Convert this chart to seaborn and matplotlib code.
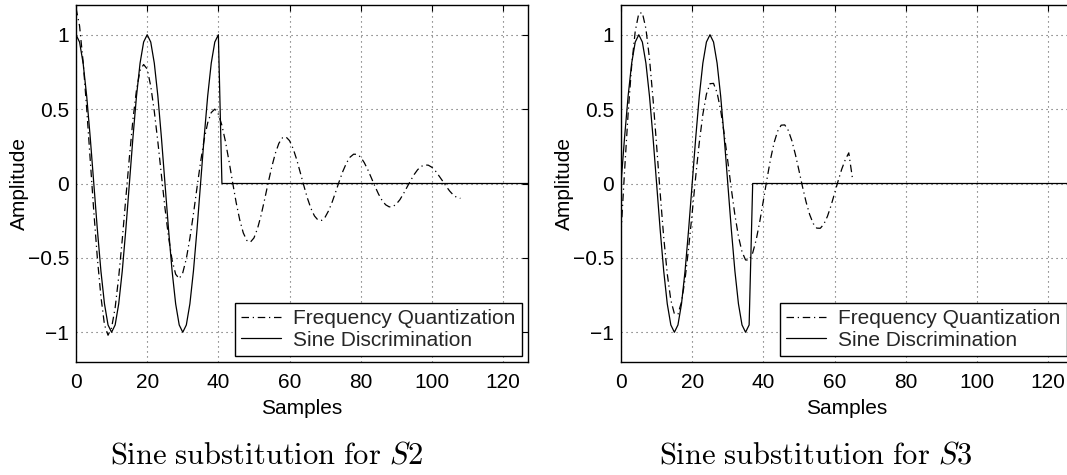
import numpy as np
import pandas as pd
import matplotlib
matplotlib.use("Agg")
import matplotlib.pyplot as plt
import seaborn as sns

# ---------------- data ----------------
samples_fq_s2 = np.arange(0, 109)
freq_quant_s2 = [
    1.180, 1.060, 0.818, 0.505, 0.158, -0.188, -0.501, -0.760, -0.950, -1.020,
    -0.970, -0.835, -0.628, -0.376, -0.098, 0.176, 0.430, 0.630, 0.760, 0.800,
    0.770, 0.655, 0.485, 0.280, 0.056, -0.165, -0.360, -0.515, -0.610, -0.640,
    -0.600, -0.505, -0.368, -0.204, -0.027, 0.144, 0.294, 0.408, 0.477, 0.500,
    0.466, 0.391, 0.281, 0.149, 0.008, -0.128, -0.244, -0.332, -0.383, -0.394,
    -0.366, -0.303, -0.214, -0.107, 0.005, 0.111, 0.202, 0.270, 0.307, 0.313,
    0.288, 0.235, 0.162, 0.075, -0.013, -0.097, -0.167, -0.218, -0.246, -0.248,
    -0.226, -0.182, -0.123, -0.054, 0.017, 0.083, 0.138, 0.177, 0.197, 0.196,
    0.177, 0.140, 0.092, 0.037, -0.019, -0.071, -0.114, -0.143, -0.157, -0.156,
    -0.138, -0.109, -0.069, -0.025, 0.019, 0.060, 0.093, 0.115, 0.125, 0.123,
    0.109, 0.084, 0.051, 0.017, -0.019, -0.051, -0.077, -0.094, -0.100,
]
samples_sd = np.arange(0, 128)
sine_disc_s2 = [
    1.000, 0.951, 0.809, 0.588, 0.309, 0.000, -0.309, -0.588, -0.809, -0.951,
    -1.000, -0.951, -0.809, -0.588, -0.309, 0.000, 0.309, 0.588, 0.809, 0.951,
    1.000, 0.951, 0.809, 0.588, 0.309, 0.000, -0.309, -0.588, -0.809, -0.951,
    -1.000, -0.951, -0.809, -0.588, -0.309, 0.000, 0.309, 0.588, 0.809, 0.951,
    1.000,
] + [0.0] * 87

samples_fq_s3 = np.arange(0, 66)
freq_quant_s3 = [
    -0.336, 0.083, 0.471, 0.794, 1.024, 1.144, 1.148, 1.041, 0.840, 0.569,
    0.257, -0.063, -0.361, -0.608, -0.784, -0.876, -0.878, -0.797, -0.643, -0.435,
    -0.197, 0.049, 0.276, 0.465, 0.600, 0.671, 0.673, 0.610, 0.493, 0.333,
    0.151, -0.037, -0.211, -0.356, -0.459, -0.514, -0.515, -0.467, -0.377, -0.255,
    -0.115, 0.028, 0.162, 0.273, 0.351, 0.392, 0.394, 0.357, 0.288, 0.195,
    0.088, -0.022, -0.124, -0.208, -0.269, -0.300, -0.301, -0.273, -0.221, -0.150,
    -0.067, 0.017, 0.095, 0.159, 0.206, 0.040,
]
sine_disc_s3 = [
    0.000, 0.309, 0.588, 0.809, 0.951, 1.000, 0.951, 0.809, 0.588, 0.309,
    0.000, -0.309, -0.588, -0.809, -0.951, -1.000, -0.951, -0.809, -0.588, -0.309,
    0.000, 0.309, 0.588, 0.809, 0.951, 1.000, 0.951, 0.809, 0.588, 0.309,
    0.000, -0.309, -0.588, -0.809, -0.951, -1.000, -0.951,
] + [0.0] * 91

x_ticks = [0, 20, 40, 60, 80, 100, 120]
y_ticks = [-1, -0.5, 0, 0.5, 1]
y_tick_labels = ["\u22121", "\u22120.5", "0", "0.5", "1"]
captions = ["S2", "S3"]
series_labels = ["Frequency Quantization", "Sine Discrimination"]

# ---------------- style ----------------
sns.set_theme(style="white")
plt.rcParams["font.family"] = ["Liberation Sans", "DejaVu Sans"]
plt.rcParams["axes.unicode_minus"] = True

FS = 15
fig = plt.figure(figsize=(10.67, 4.75), dpi=100)
W, H = 1067.0, 475.0
ax1 = fig.add_axes([76 / W, 1 - 362 / H, 452 / W, 357 / H])
ax2 = fig.add_axes([621 / W, 1 - 362 / H, 452 / W, 357 / H])

panels = [
    (ax1, samples_fq_s2, freq_quant_s2, sine_disc_s2),
    (ax2, samples_fq_s3, freq_quant_s3, sine_disc_s3),
]

for ax, s_fq, fq, sd in panels:
    df_fq = pd.DataFrame({"Samples": s_fq, "Amplitude": fq})
    df_sd = pd.DataFrame({"Samples": samples_sd, "Amplitude": sd})
    sns.lineplot(data=df_fq, x="Samples", y="Amplitude", ax=ax, color="black",
                 lw=0.9, linestyle=(0, (6, 3, 1, 3)), label=series_labels[0])
    sns.lineplot(data=df_sd, x="Samples", y="Amplitude", ax=ax, color="black",
                 lw=0.9, linestyle="-", label=series_labels[1])
    ax.set_xlim(0, 127)
    ax.set_ylim(-1.2, 1.2)
    ax.set_xticks(x_ticks)
    ax.set_xticklabels([str(t) for t in x_ticks])
    ax.set_yticks(y_ticks)
    ax.set_yticklabels(y_tick_labels)
    ax.grid(True, color="0.35", linestyle=(0, (1, 3.5)), lw=0.8)
    for sp in ax.spines.values():
        sp.set_color("black")
        sp.set_linewidth(1.0)
        sp.set_visible(True)
    ax.tick_params(direction="in", length=4, width=0.8, top=True, right=True,
                   labelsize=FS, colors="black", pad=5)
    ax.tick_params(axis="x", pad=8)
    ax.set_xlabel("Samples", fontsize=FS, color="black", labelpad=5)
    ax.set_ylabel("Amplitude", fontsize=FS, color="black", labelpad=-1)
    leg = ax.legend(loc="lower right", fontsize=FS, frameon=True, fancybox=False,
                    framealpha=1, edgecolor="black", borderpad=0.3,
                    labelspacing=0.1, handlelength=1.9, handletextpad=0.6,
                    borderaxespad=0.3)
    leg.get_frame().set_linewidth(1.0)

for xc, cap in zip([267 / W, 816 / W], captions):
    fig.text(xc, 1 - 455 / H,
             r"$\mathrm{Sine\ substitution\ for\ }\mathit{" + cap + "}$",
             fontsize=22, ha="center", va="center", math_fontfamily="cm",
             color="black")

fig.savefig("out.png", dpi=100)
